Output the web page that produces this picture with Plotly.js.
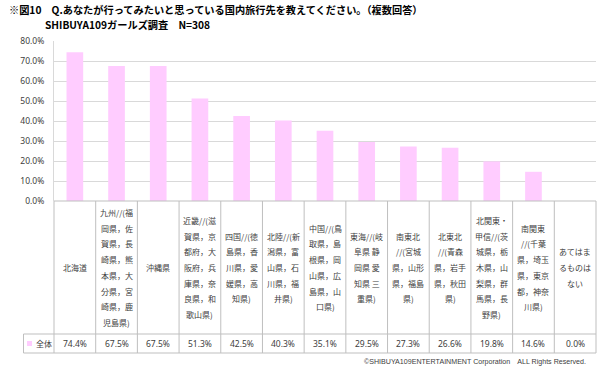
<!DOCTYPE html>
<html>
<head>
<meta charset="utf-8">
<script src="https://cdn.plot.ly/plotly-3.0.1.min.js"></script>
<style>html,body{margin:0;padding:0;background:#fff;}#chart{width:600px;height:371px;}</style>
</head>
<body>
<div id="chart"></div>
<script>
// ---- data ----
const categories = [
  '北海道',
  '九州//(福|岡県，佐|賀県，長|崎県，熊|本県，大|分県，宮|崎県，鹿|児島県)',
  '沖縄県',
  '近畿//(滋|賀県，京|都府，大|阪府，兵|庫県，奈|良県，和|歌山県)',
  '四国//(徳|島県，香|川県，愛|媛県，高|知県)',
  '北陸//(新|潟県，富|山県，石|川県，福|井県)',
  '中国//(鳥|取県，島|根県，岡|山県，広|島県，山|口県)',
  '東海//(岐|阜県 静|岡県 愛|知県 三|重県)',
  '南東北|//(宮城|県，山形|県，福島|県)',
  '北東北|//(青森|県，岩手|県，秋田|県)',
  '北関東・|甲信//(茨|城県，栃|木県，山|梨県，群|馬県，長|野県)',
  '南関東|//(千葉|県，埼玉|県，東京|都，神奈|川県)',
  'あてはま|るものは|ない'
];
const values = [74.4, 67.5, 67.5, 51.3, 42.5, 40.3, 35.1, 29.5, 27.3, 26.6, 19.8, 14.6, 0.0];
const seriesName = '全体';
const valueLabels = ['74.4%','67.5%','67.5%','51.3%','42.5%','40.3%','35.1%','29.5%','27.3%','26.6%','19.8%','14.6%','0.0%'];
const titleLine1 = '※図10　Q.あなたが行ってみたいと思っている国内旅行先を教えてください。（複数回答）';
const titleLine2 = 'SHIBUYA109ガールズ調査　N=308';
const copyright = '©SHIBUYA109ENTERTAINMENT Corporation　ALL Rights Reserved.';

// ---- layout geometry ----
const H = 371, mT = 41, mB = 170, mL = 54, mR = 4;
const plotH = H - mT - mB;           // 160
const plotW = 600 - mL - mR;         // 542
const baseY = H - mB;                // pixel of 0%
const py2paper = py => (baseY - py) / plotH;
const px2paper = px => (px - mL) / plotW;
const n = categories.length;

const rowTop = baseY, rowMid = 334, rowBot = 353, leftX = 23.5;
const tableColor = '#BFBFBF';
const textColor = '#404040';
const cjk = '"Noto Sans CJK JP", "Noto Sans", sans-serif';

const shapes = [];
// horizontal lines
shapes.push({type:'line', xref:'paper', yref:'paper', x0:0, x1:1, y0:py2paper(rowTop), y1:py2paper(rowTop), line:{color:tableColor, width:1}});
shapes.push({type:'line', xref:'paper', yref:'paper', x0:px2paper(leftX), x1:1, y0:py2paper(rowMid), y1:py2paper(rowMid), line:{color:tableColor, width:1}});
shapes.push({type:'line', xref:'paper', yref:'paper', x0:px2paper(leftX), x1:1, y0:py2paper(rowBot), y1:py2paper(rowBot), line:{color:tableColor, width:1}});
// vertical lines
for (let k = 0; k <= n; k++) {
  shapes.push({type:'line', xref:'paper', yref:'paper', x0:k/n, x1:k/n, y0:py2paper(rowTop), y1:py2paper(rowBot), line:{color:tableColor, width:1}});
}
shapes.push({type:'line', xref:'paper', yref:'paper', x0:px2paper(leftX), x1:px2paper(leftX), y0:py2paper(rowMid), y1:py2paper(rowBot), line:{color:tableColor, width:1}});
// legend swatch
shapes.push({type:'rect', xref:'paper', yref:'paper', x0:px2paper(27), x1:px2paper(32), y0:py2paper(346), y1:py2paper(341), fillcolor:'#FFCCFF', line:{width:0}});

const annotations = [];
const lineGap = 15.7;
const catMid = (rowTop + rowMid) / 2;
categories.forEach((c, i) => {
  const lines = c.split('|');
  lines.forEach((ln, j) => {
    const py = catMid + (j - (lines.length - 1) / 2) * lineGap;
    annotations.push({xref:'paper', yref:'paper', x:(i + 0.5)/n, y:py2paper(py), text:ln, showarrow:false,
      xanchor:'center', yanchor:'middle', font:{family:cjk, size:8, color:textColor}});
  });
  annotations.push({xref:'paper', yref:'paper', x:(i + 0.5)/n, y:py2paper(343), text:valueLabels[i], showarrow:false,
    xanchor:'center', yanchor:'middle', font:{family:'"Noto Sans", sans-serif', size:8.5, color:textColor}});
});
annotations.push({xref:'paper', yref:'paper', x:px2paper(34), y:py2paper(343), text:seriesName, showarrow:false,
  xanchor:'left', yanchor:'middle', font:{family:cjk, size:8, color:textColor}});
// titles
annotations.push({xref:'paper', yref:'paper', x:px2paper(7), y:py2paper(9.5), text:'<b>'+titleLine1+'</b>', showarrow:false,
  xanchor:'left', yanchor:'middle', font:{family:cjk, size:10.2, color:'#000'}});
annotations.push({xref:'paper', yref:'paper', x:px2paper(43), y:py2paper(24.5), text:'<b>'+titleLine2+'</b>', showarrow:false,
  xanchor:'left', yanchor:'middle', font:{family:cjk, size:10.2, color:'#000'}});
annotations.push({xref:'paper', yref:'paper', x:px2paper(588), y:py2paper(362), text:copyright, showarrow:false,
  xanchor:'right', yanchor:'middle', font:{family:'"Liberation Sans Narrow", "Liberation Sans", sans-serif', size:7.1, color:'#404040'}});

const trace = {
  type:'bar', x: categories.map((_, i) => i), y: values.map(v => v/100), name: seriesName,
  marker:{color:'#FFCCFF', line:{width:0}}, width:0.4, hoverinfo:'skip'
};

const layout = {
  width:600, height:371, margin:{l:mL, r:mR, t:mT, b:mB, pad:0},
  paper_bgcolor:'#fff', plot_bgcolor:'#fff', showlegend:false,
  xaxis:{range:[-0.5, n-0.5], showticklabels:false, showgrid:false, zeroline:false, showline:false, ticks:'', fixedrange:true},
  yaxis:{range:[0,0.8], dtick:0.1, tickformat:'.1%', showgrid:true, gridcolor:'#D9D9D9', gridwidth:1,
    zeroline:false, showline:true, linecolor:'#D9D9D9', linewidth:1, ticks:'', ticklabelstandoff:7,
    tickfont:{family:'"Noto Sans", sans-serif', size:8.5, color:textColor}, fixedrange:true},
  shapes, annotations, bargap:0.6
};

Plotly.newPlot('chart', [trace], layout, {displayModeBar:false, staticPlot:true});
</script>
</body>
</html>
